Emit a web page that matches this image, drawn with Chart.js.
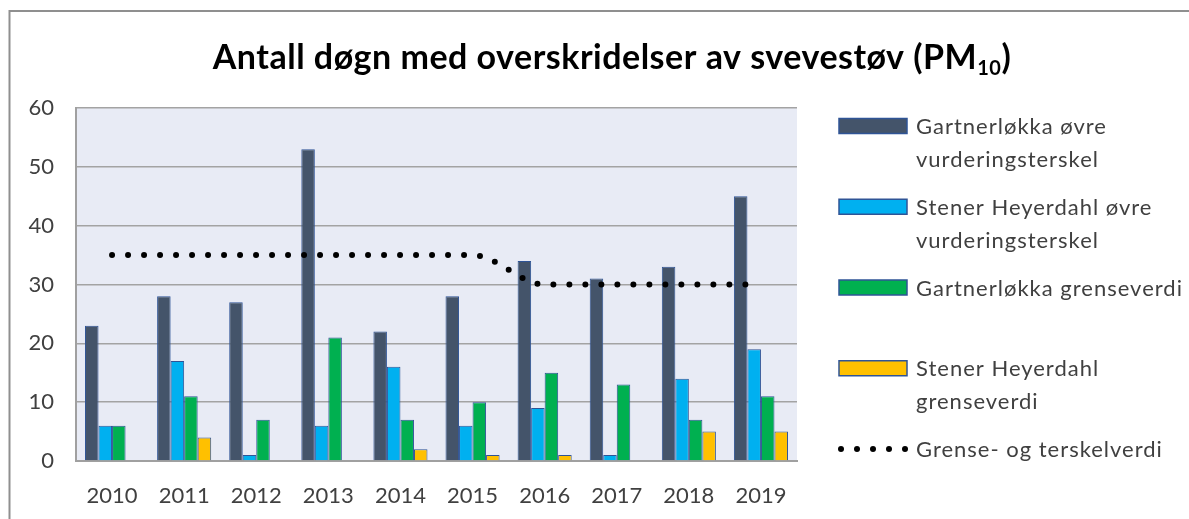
<!DOCTYPE html>
<html><head><meta charset="utf-8">
<script src="https://cdn.jsdelivr.net/npm/chart.js@4.4.1/dist/chart.umd.min.js"></script>
<style>html,body{margin:0;padding:0;background:#fff;overflow:hidden}#wrap{width:1189px;height:519px;position:relative}</style>
</head><body><div id="wrap"><canvas id="c" width="1189" height="519"></canvas></div>
<script>
const years = ['2010','2011','2012','2013','2014','2015','2016','2017','2018','2019'];
const gartnerOvre = [23,28,27,53,22,28,34,31,33,45];
const stenerOvre = [6,17,1,6,16,6,9,1,14,19];
const gartnerGrense = [6,11,7,21,7,10,15,13,7,11];
const stenerGrense = [0,4,0,0,2,1,1,0,5,5];
const terskel = [35,35,35,35,35,35,30,30,30,30];
const seriesNames = ['Gartnerløkka øvre\nvurderingsterskel','Stener Heyerdahl øvre\nvurderingsterskel','Gartnerløkka grenseverdi','Stener Heyerdahl\ngrenseverdi','Grense- og terskelverdi'];
const seriesColors = ['#44546A','#00B0F0','#00B050','#FFC000','#000000'];
const yTicks = [0,10,20,30,40,50,60];
const titleMain = 'Antall døgn med overskridelser av svevestøv (PM';
const titleSub = '10';
const titleEnd = ')';

const FONT = 'Lato';
const TXT = '#404040';
const barBorder = '#2F5496';

const decorPlugin = {
  id: 'decor',
  beforeDraw(chart) {
    const ctx = chart.ctx, a = chart.chartArea;
    ctx.save();
    ctx.fillStyle = '#fff';
    ctx.fillRect(0, 0, chart.width, chart.height);
    ctx.fillStyle = '#E8EBF5';
    ctx.fillRect(a.left, a.top, a.right - a.left, a.bottom - a.top);
    ctx.strokeStyle = '#8f8f8f';
    ctx.lineWidth = 2;
    ctx.beginPath();
    ctx.moveTo(9.5, chart.height + 5);
    ctx.lineTo(9.5, 11);
    ctx.lineTo(chart.width + 5, 11);
    ctx.stroke();
    ctx.restore();
  },
  afterDraw(chart) {
    const ctx = chart.ctx, a = chart.chartArea;
    ctx.save();
    // title
    ctx.fillStyle = '#000';
    ctx.textBaseline = 'alphabetic';
    ctx.letterSpacing = '0.5px';
    const big = 'bold 34px ' + FONT, small = 'bold 20px ' + FONT;
    ctx.font = big;
    const w1 = ctx.measureText(titleMain).width, w3 = ctx.measureText(titleEnd).width;
    ctx.font = small;
    const w2 = ctx.measureText(titleSub).width;
    const total = w1 + w2 + w3;
    let x = 612 - total / 2;
    const base = 69;
    ctx.textAlign = 'left';
    ctx.font = big; ctx.fillText(titleMain, x, base); x += w1;
    ctx.font = small; ctx.fillText(titleSub, x, base + 6); x += w2;
    ctx.font = big; ctx.fillText(titleEnd, x, base);
    // legend
    const sx = a.right + 42, tx = a.right + 119;
    ctx.font = '22px ' + FONT;
    ctx.letterSpacing = '1px';
    ctx.textBaseline = 'middle';
    chart.data.datasets.forEach((ds, i) => {
      const cy = a.top + 18 + i * 80.75;
      if (ds.type === 'line') {
        ctx.fillStyle = ds.borderColor;
        for (let k = 0; k < 5; k++) {
          ctx.beginPath();
          ctx.arc(sx + 2 + k * 16, cy, 3, 0, Math.PI * 2);
          ctx.fill();
        }
      } else {
        ctx.fillStyle = ds.backgroundColor;
        ctx.fillRect(sx, cy - 7.5, 68, 15);
        ctx.strokeStyle = barBorder;
        ctx.lineWidth = 1.5;
        ctx.strokeRect(sx, cy - 7.5, 68, 15);
      }
      ctx.fillStyle = TXT;
      ds.label.split('\n').forEach((ln, j) => ctx.fillText(ln, tx, cy + 1 + j * 33));
    });
    ctx.restore();
  }
};

function barSet(label, data, color) {
  return { type: 'bar', label, data, backgroundColor: color, borderColor: barBorder,
    borderWidth: 1, borderSkipped: 'start', categoryPercentage: 0.75, barPercentage: 1, order: 2 };
}

new Chart(document.getElementById('c'), {
  data: {
    labels: years,
    datasets: [
      barSet(seriesNames[0], gartnerOvre, seriesColors[0]),
      barSet(seriesNames[1], stenerOvre, seriesColors[1]),
      barSet(seriesNames[2], gartnerGrense, seriesColors[2]),
      barSet(seriesNames[3], stenerGrense, seriesColors[3]),
      { type: 'line', label: seriesNames[4], data: terskel, borderColor: seriesColors[4],
        backgroundColor: seriesColors[4], borderWidth: 6, borderDash: [0, 16], borderCapStyle: 'round',
        pointRadius: 0, cubicInterpolationMode: 'monotone', fill: false, order: 0 }
    ]
  },
  options: {
    responsive: false, animation: false, devicePixelRatio: 1,
    layout: { padding: { top: 108, left: 0, right: 392, bottom: 0 } },
    plugins: { legend: { display: false }, title: { display: false }, tooltip: { enabled: false } },
    scales: {
      x: {
        grid: { display: false, drawTicks: false },
        border: { display: true, color: '#a0a0a0', width: 2 },
        ticks: { color: TXT, font: { family: FONT, size: 22 }, padding: 22, maxRotation: 0 },
        afterFit(s) { s.height = 58; }
      },
      y: {
        min: 0, max: 60,
        grid: { color: '#a3a3a3', lineWidth: 1.5, drawTicks: false },
        border: { display: true, color: '#a0a0a0', width: 2 },
        afterBuildTicks(s) { s.ticks = yTicks.map(v => ({ value: v })); },
        ticks: { color: TXT, font: { family: FONT, size: 22 }, padding: 22 },
        afterFit(s) { s.width = 76; }
      }
    }
  },
  plugins: [decorPlugin]
});
</script>
</body></html>
